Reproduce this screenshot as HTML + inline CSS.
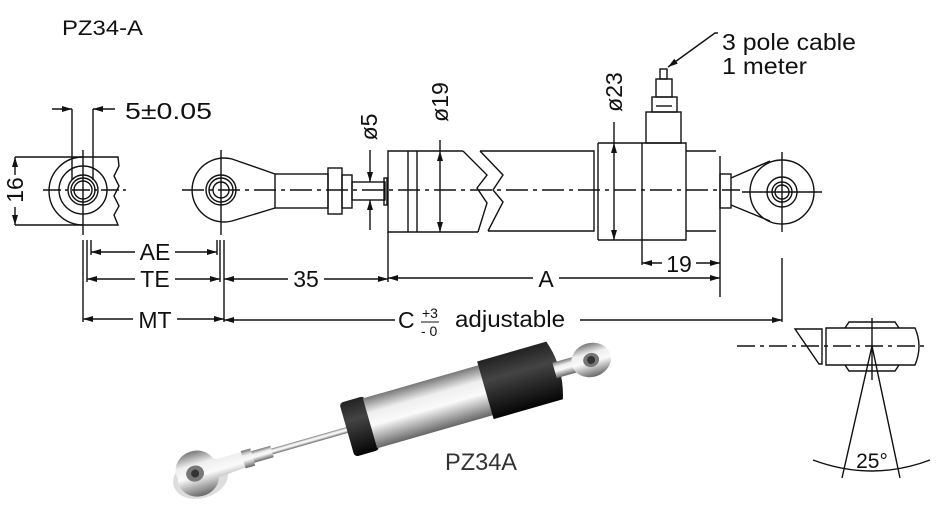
<!DOCTYPE html>
<html><head><meta charset="utf-8"><style>
html,body{margin:0;padding:0;background:#fff;width:949px;height:518px;overflow:hidden}
svg{display:block;font-family:"Liberation Sans",Arial,sans-serif}
</style></head><body>
<svg width="949" height="518" viewBox="0 0 949 518" xmlns="http://www.w3.org/2000/svg">
<defs>
<marker id="a" viewBox="0 0 10 6" refX="10" refY="3" markerWidth="10" markerHeight="6" orient="auto-start-reverse" markerUnits="userSpaceOnUse"><path d="M0,0L10,3L0,6z" fill="#111"/></marker>
<linearGradient id="sil" x1="0" y1="0" x2="0" y2="1"><stop offset="0" stop-color="#777"/><stop offset=".3" stop-color="#eee"/><stop offset=".55" stop-color="#fafafa"/><stop offset="1" stop-color="#666"/></linearGradient>
<linearGradient id="blk" x1="0" y1="0" x2="0" y2="1"><stop offset="0" stop-color="#222"/><stop offset=".35" stop-color="#444"/><stop offset="1" stop-color="#050505"/></linearGradient>
</defs>
<g fill="none" stroke="#111" stroke-width="1.4">
<path d="M118,157 L83,157 A34,34 0 0 0 83,225 L118,225 L114,215 L119,206 L114,196 L119,186 L114,176 L119,166 Z"/>
<circle cx="83" cy="190" r="24"/><circle cx="83" cy="190" r="15"/><circle cx="83" cy="190" r="12"/><circle cx="83" cy="190" r="9"/>
<line x1="72" y1="109" x2="72" y2="180"/><line x1="93" y1="109" x2="93" y2="180"/>
<line x1="52" y1="109" x2="72" y2="109" marker-end="url(#a)"/><line x1="115" y1="109" x2="93" y2="109" marker-end="url(#a)"/>
<line x1="15" y1="157" x2="83" y2="157"/><line x1="15" y1="225" x2="83" y2="225"/>
<line x1="15" y1="175" x2="15" y2="157" marker-end="url(#a)"/><line x1="15" y1="207" x2="15" y2="225" marker-end="url(#a)"/>
<path d="M275,174 L232,159 A32,32 0 1 0 232,221 L275,208"/>
<circle cx="221" cy="190" r="15"/><circle cx="221" cy="190" r="12"/><circle cx="221" cy="190" r="8"/>
<rect x="275" y="174" width="53" height="34"/>
<rect x="328" y="168" width="14" height="46"/>
<rect x="342" y="175" width="10" height="33"/>
<rect x="352" y="182" width="33" height="18"/>
<rect x="384" y="178" width="3" height="27"/>
<path d="M463,151 L388,151 L388,232 L478,232"/>
<path d="M463,151 L487,175 L477,188 L487,203 L478,232"/>
<line x1="408" y1="151" x2="408" y2="232"/><line x1="417" y1="151" x2="417" y2="232"/>
<line x1="440" y1="140" x2="440" y2="151"/>
<line x1="440" y1="190" x2="440" y2="151" marker-end="url(#a)"/><line x1="440" y1="190" x2="440" y2="232" marker-end="url(#a)"/>
<line x1="370" y1="150" x2="370" y2="182" marker-end="url(#a)"/>
<line x1="370" y1="230" x2="370" y2="200" marker-end="url(#a)"/>
<path d="M480,151 L503,175 L493,190 L503,202 L488,231"/>
<path d="M480,151 L594,151 L594,231 L488,231"/>
<path d="M598,143 L686,143 L686,240 L598,240"/>
<line x1="598" y1="143" x2="598" y2="240"/>
<line x1="642" y1="143" x2="642" y2="265"/>
<line x1="614" y1="122" x2="614" y2="143"/>
<line x1="614" y1="190" x2="614" y2="143" marker-end="url(#a)"/><line x1="614" y1="190" x2="614" y2="240" marker-end="url(#a)"/>
<rect x="646" y="112" width="35" height="31"/>
<rect x="652" y="97" width="25" height="15"/>
<line x1="656" y1="106" x2="672" y2="106"/>
<rect x="656" y="79" width="16" height="18"/>
<rect x="660" y="69" width="7" height="10"/>
<path d="M718,33 L715,33 L668,67" marker-end="url(#a)"/>
<path d="M686,151 L716,151 M686,231 L716,231"/>
<line x1="720" y1="156" x2="720" y2="297"/>
<rect x="720" y="174" width="11" height="34"/>
<path d="M731,178 L770,161 M731,205 L770,221"/>
<circle cx="782" cy="192" r="32"/><circle cx="782" cy="192" r="15"/><circle cx="782" cy="192" r="10"/><circle cx="782" cy="192" r="7"/>
<line x1="782" y1="152" x2="782" y2="232"/><line x1="742" y1="192" x2="822" y2="192"/>
<line x1="43" y1="190" x2="130" y2="190" stroke-dasharray="18,4,3,4"/>
<line x1="83" y1="150" x2="83" y2="235"/>
<line x1="182" y1="190" x2="740" y2="190" stroke-dasharray="22,5,4,5"/>
<line x1="221" y1="150" x2="221" y2="235"/>
<line x1="83" y1="240" x2="83" y2="322"/><line x1="87" y1="240" x2="87" y2="282"/><line x1="91" y1="240" x2="91" y2="255"/>
<line x1="217" y1="240" x2="217" y2="255"/><line x1="220" y1="240" x2="220" y2="282"/><line x1="224" y1="240" x2="224" y2="322"/>
<line x1="91" y1="252" x2="217" y2="252" marker-start="url(#a)" marker-end="url(#a)"/>
<line x1="87" y1="279" x2="220" y2="279" marker-start="url(#a)" marker-end="url(#a)"/>
<line x1="83" y1="319" x2="224" y2="319" marker-start="url(#a)" marker-end="url(#a)"/>
<line x1="388" y1="232" x2="388" y2="282"/>
<line x1="224" y1="279" x2="388" y2="279" marker-start="url(#a)" marker-end="url(#a)"/>
<line x1="388" y1="278" x2="720" y2="278" marker-start="url(#a)" marker-end="url(#a)"/>
<line x1="642" y1="263" x2="720" y2="263" marker-start="url(#a)" marker-end="url(#a)"/>
<line x1="782" y1="258" x2="782" y2="322"/>
<line x1="224" y1="320" x2="395" y2="320" marker-start="url(#a)"/>
<line x1="580" y1="320" x2="782" y2="320" marker-end="url(#a)"/>
<line x1="737" y1="346" x2="925" y2="346" stroke-dasharray="18,5,4,5"/>
<path d="M826,328 L915,328 Q923,346 915,365 L826,365 Z"/>
<path d="M795,329 L822,329 L822,364 L819,364 Z"/>
<path d="M845,328 L849,322 L895,322 L899,328 M845,365 L849,371 L895,371 L899,365"/>
<line x1="872" y1="318" x2="872" y2="380"/>
<line x1="872" y1="346" x2="842" y2="478"/><line x1="872" y1="346" x2="900" y2="478"/>
<path d="M813,460 Q872,482 930,460"/>
</g>
<g font-size="23" fill="#111">
<text x="62" y="35" font-size="21" textLength="81" lengthAdjust="spacingAndGlyphs">PZ34-A</text>
<text x="125" y="119" textLength="87" lengthAdjust="spacingAndGlyphs">5±0.05</text>
<text transform="translate(23,190) rotate(-90)" text-anchor="middle">16</text>
<text transform="translate(377,127) rotate(-90)" text-anchor="middle">ø5</text>
<text transform="translate(448,102) rotate(-90)" text-anchor="middle">ø19</text>
<text transform="translate(622,92) rotate(-90)" text-anchor="middle">ø23</text>
<text x="722" y="50" textLength="134" lengthAdjust="spacingAndGlyphs">3 pole cable</text>
<text x="722" y="74" textLength="85" lengthAdjust="spacingAndGlyphs">1 meter</text>
<rect x="135" y="241" width="40" height="20" fill="#fff"/><text x="155" y="260" text-anchor="middle">AE</text>
<rect x="135" y="268" width="40" height="20" fill="#fff"/><text x="155" y="287" text-anchor="middle">TE</text>
<rect x="133" y="308" width="44" height="20" fill="#fff"/><text x="155" y="328" text-anchor="middle">MT</text>
<rect x="288" y="268" width="36" height="20" fill="#fff"/><text x="306" y="287" text-anchor="middle">35</text>
<rect x="533" y="267" width="26" height="20" fill="#fff"/><text x="546" y="287" text-anchor="middle">A</text>
<rect x="662" y="252" width="34" height="20" fill="#fff"/><text x="679" y="272" text-anchor="middle">19</text>
<text x="398" y="328">C</text>
<text x="422" y="318" font-size="14">+3</text><line x1="421" y1="322" x2="439" y2="322" stroke="#111"/>
<text x="421" y="336" font-size="14">- 0</text>
<text x="455" y="327" textLength="110" lengthAdjust="spacingAndGlyphs">adjustable</text>
<text x="872" y="468" text-anchor="middle" font-size="21">25°</text>
<text x="445" y="470" font-size="24" fill="#333" textLength="72" lengthAdjust="spacingAndGlyphs">PZ34A</text>
</g>
<g transform="translate(197,473) rotate(-16)">
<ellipse cx="2" cy="6" rx="28" ry="20" fill="#bbb" opacity=".5"/>
<path d="M-20,0 A20,18 0 0 1 20,-8 L50,-8 L50,8 L20,10 A20,18 0 0 1 -20,0 Z" fill="url(#sil)"/>
<ellipse cx="-2" cy="0" rx="9" ry="8" fill="#777"/><ellipse cx="-2" cy="0" rx="4" ry="4" fill="#333"/>
<rect x="48" y="-9" width="10" height="18" fill="url(#sil)"/>
<rect x="58" y="-6" width="20" height="12" fill="url(#sil)"/>
<rect x="78" y="-3" width="80" height="6" fill="url(#sil)"/>
<rect x="156" y="-28" width="26" height="56" rx="4" fill="url(#blk)"/>
<rect x="180" y="-26" width="122" height="52" fill="url(#sil)"/>
<path d="M300,-30 L372,-30 Q382,0 372,30 L300,30 Z" fill="url(#blk)"/>
<rect x="372" y="-8" width="22" height="16" fill="url(#sil)"/>
<ellipse cx="410" cy="0" rx="20" ry="17" fill="url(#sil)"/>
<ellipse cx="410" cy="0" rx="8" ry="7" fill="#777"/><ellipse cx="410" cy="0" rx="4" ry="4" fill="#333"/>
</g>
</svg>
</body></html>
